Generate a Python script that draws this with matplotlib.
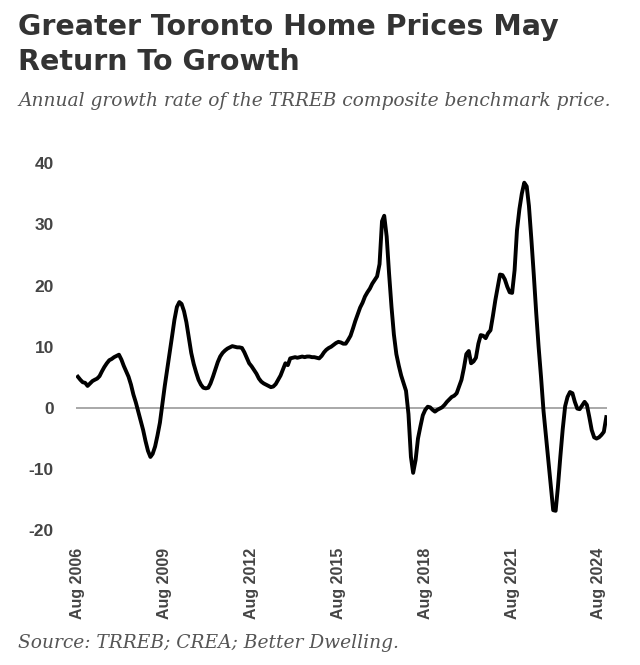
#!/usr/bin/env python3

import numpy as np
import pandas as pd
import matplotlib
matplotlib.use("Agg")
import matplotlib.pyplot as plt

# Annual growth of TRREB composite benchmark price, monthly from Aug 2006
start_month = "2006-08-01"
growth = [
    # Aug 2006 - Jul 2007
    5.1, 4.6, 4.2, 4.1, 3.6, 4.0, 4.4, 4.6, 4.8, 5.2, 6.0, 6.7,
    # Aug 2007 - Jul 2008
    7.3, 7.8, 8.0, 8.3, 8.5, 8.7, 7.9, 6.9, 6.0, 5.1, 3.8, 2.2,
    # Aug 2008 - Jul 2009
    0.9, -0.6, -2.1, -3.6, -5.4, -7.0, -8.0, -7.5, -6.3, -4.5, -2.4, 0.5,
    # Aug 2009 - Jul 2010
    3.6, 6.3, 9.0, 11.7, 14.4, 16.5, 17.3, 17.0, 15.8, 14.0, 11.5, 9.0,
    # Aug 2010 - Jul 2011
    7.2, 5.8, 4.6, 3.8, 3.3, 3.2, 3.3, 4.0, 5.1, 6.3, 7.5, 8.4,
    # Aug 2011 - Jul 2012
    9.0, 9.4, 9.7, 9.9, 10.1, 10.0, 9.9, 9.9, 9.8, 9.1, 8.2, 7.3,
    # Aug 2012 - Jul 2013
    6.8, 6.2, 5.6, 4.8, 4.3, 4.0, 3.8, 3.6, 3.4, 3.5, 3.9, 4.6,
    # Aug 2013 - Jul 2014
    5.3, 6.3, 7.3, 7.0, 8.1, 8.2, 8.3, 8.2, 8.3, 8.4, 8.3, 8.4,
    # Aug 2014 - Jul 2015
    8.4, 8.3, 8.3, 8.2, 8.1, 8.5, 9.1, 9.5, 9.8, 10.0, 10.3, 10.6,
    # Aug 2015 - Jul 2016
    10.8, 10.7, 10.5, 10.5, 11.1, 11.8, 13.0, 14.2, 15.3, 16.4, 17.2, 18.2,
    # Aug 2016 - Jul 2017
    18.9, 19.5, 20.3, 20.9, 21.5, 23.5, 30.5, 31.4, 28.0, 22.0, 16.5, 12.0,
    # Aug 2017 - Jul 2018
    8.8, 6.9, 5.3, 4.0, 2.8, -1.0, -8.0, -10.6, -8.5, -5.0, -3.0, -1.2,
    # Aug 2018 - Jul 2019
    -0.3, 0.2, 0.1, -0.3, -0.6, -0.3, -0.1, 0.1, 0.5, 1.0, 1.4, 1.8,
    # Aug 2019 - Jul 2020
    2.0, 2.4, 3.5, 4.6, 6.5, 8.8, 9.3, 7.3, 7.6, 8.2, 10.5, 11.9,
    # Aug 2020 - Jul 2021
    11.8, 11.4, 12.2, 12.7, 15.0, 17.6, 19.8, 21.8, 21.7, 21.0, 19.8, 18.9,
    # Aug 2021 - Jul 2022
    18.8, 22.5, 29.0, 32.5, 35.0, 36.8, 36.2, 33.0, 27.5, 21.8, 15.5, 10.0,
    # Aug 2022 - Jul 2023
    5.0, -0.5, -4.5, -8.5, -12.5, -16.7, -16.8, -13.0, -8.0, -3.5, 0.3, 1.8,
    # Aug 2023 - Jul 2024
    2.6, 2.4, 1.0, -0.1, -0.2, 0.4, 1.0, 0.5, -1.5, -3.6, -4.8, -5.0,
    # Aug 2024 - Nov 2024
    -4.8, -4.4, -3.9, -1.5,
]
y_ticks = [-20, -10, 0, 10, 20, 30, 40]
x_tick_dates = ["2006-08-01", "2009-08-01", "2012-08-01", "2015-08-01",
                "2018-08-01", "2021-08-01", "2024-08-01"]
x_tick_labels = ["Aug 2006", "Aug 2009", "Aug 2012", "Aug 2015",
                 "Aug 2018", "Aug 2021", "Aug 2024"]

title = "Greater Toronto Home Prices May\nReturn To Growth"
subtitle = "Annual growth rate of the TRREB composite benchmark price."
source = "Source: TRREB; CREA; Better Dwelling."

dates = pd.date_range(start_month, periods=len(growth), freq="MS")

fig = plt.figure(figsize=(6.4, 6.65), dpi=100)
ax = fig.add_axes([76 / 640, 1 - 536.5 / 665, (607 - 76) / 640, (536.5 - 157) / 665])

ax.axhline(0, color="#999999", lw=1.2, zorder=1)
ax.plot(dates, growth, color="black", lw=2.8, solid_joinstyle="round", zorder=2)

ax.set_ylim(-21, 41)
ax.set_xlim(dates[0] - pd.Timedelta(days=24), dates[-1] + pd.Timedelta(days=9))

ax.set_yticks(y_ticks)
ax.set_yticklabels([str(v) for v in y_ticks], fontfamily="Liberation Sans",
                   fontweight="bold", fontsize=12.5, color="#444444")
ax.set_xticks(pd.to_datetime(x_tick_dates))
ax.set_xticklabels(x_tick_labels, rotation=90, fontfamily="Liberation Sans",
                   fontweight="bold", fontsize=11.5, color="#444444")
ax.tick_params(axis="y", length=0, pad=16)
ax.tick_params(axis="x", length=0, pad=8)
for s in ax.spines.values():
    s.set_visible(False)

fig.text(18 / 640, 1 - 13 / 665, title, ha="left", va="top", fontfamily="DejaVu Sans",
         fontweight="bold", fontsize=20.5, color="#333333", linespacing=1.3)
fig.text(18 / 640, 1 - 101 / 665, subtitle, ha="left", va="center", fontfamily="DejaVu Serif",
         fontstyle="italic", fontsize=13.4, color="#555555")
fig.text(18 / 640, 1 - 643 / 665, source, ha="left", va="center", fontfamily="DejaVu Serif",
         fontstyle="italic", fontsize=13.4, color="#555555")

plt.savefig("out.png", dpi=100)
